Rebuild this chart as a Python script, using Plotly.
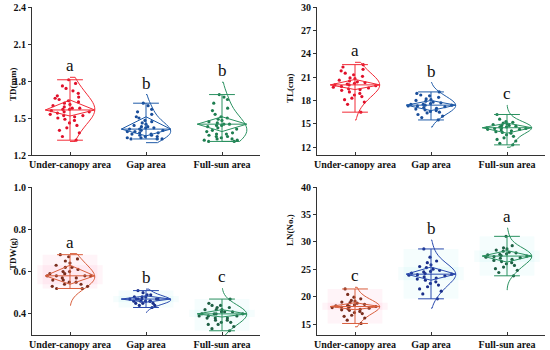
import numpy as np
import plotly.graph_objects as go

categories = ["Under-canopy area", "Gap area", "Full-sun area"]

# ---------------- TD (mm) ----------------
td_under = [1.81, 1.78, 1.76, 1.74, 1.72, 1.70, 1.68, 1.67, 1.66, 1.65, 1.64, 1.63, 1.62, 1.61, 1.60,
            1.59, 1.58, 1.58, 1.57, 1.57, 1.56, 1.55, 1.55, 1.54, 1.53, 1.52, 1.52, 1.51, 1.50, 1.49,
            1.48, 1.46, 1.44, 1.42, 1.40, 1.38, 1.35, 1.32]
td_gap = [1.62, 1.60, 1.57, 1.55, 1.53, 1.51, 1.50, 1.48, 1.47, 1.46, 1.45, 1.44, 1.43, 1.43, 1.42,
          1.42, 1.41, 1.41, 1.40, 1.40, 1.39, 1.39, 1.38, 1.38, 1.37, 1.37, 1.36, 1.36, 1.35, 1.35,
          1.34, 1.34, 1.33, 1.33, 1.33]
td_full = [1.69, 1.67, 1.65, 1.62, 1.58, 1.56, 1.53, 1.51, 1.50, 1.49, 1.48, 1.47, 1.46, 1.45, 1.45,
           1.44, 1.44, 1.43, 1.42, 1.41, 1.40, 1.39, 1.38, 1.37, 1.37, 1.36, 1.35, 1.35, 1.34, 1.33,
           1.33, 1.32, 1.32, 1.31, 1.31]
td_max = [1.81, 1.62, 1.69]
td_min = [1.32, 1.33, 1.31]
td_mean = [1.565, 1.41, 1.45]
td_q3 = [1.646, 1.51, 1.51]
td_q1 = [1.516, 1.355, 1.39]
td_span_hi = [1.83, 1.69, 1.79]
td_span_lo = [1.31, 1.30, 1.31]
td_letters = ["a", "b", "b"]

# ---------------- TL (cm) ----------------
tl_under = [22.6, 22.3, 22.0, 21.8, 21.5, 21.3, 21.1, 20.9, 20.8, 20.6, 20.5, 20.4, 20.3, 20.2, 20.1,
            20.0, 20.0, 19.9, 19.8, 19.7, 19.6, 19.5, 19.4, 19.3, 19.1, 18.9, 18.7, 18.5, 18.3, 18.1,
            17.8, 17.5, 16.5]
tl_gap = [19.1, 18.9, 18.7, 18.6, 18.4, 18.2, 18.1, 18.0, 17.9, 17.8, 17.7, 17.6, 17.5, 17.5, 17.4,
          17.4, 17.3, 17.3, 17.2, 17.1, 17.0, 16.9, 16.8, 16.7, 16.6, 16.5, 16.4, 16.2, 16.0, 15.8, 15.5]
tl_full = [16.2, 15.6, 15.3, 15.2, 15.1, 15.0, 14.9, 14.8, 14.8, 14.7, 14.6, 14.6, 14.5, 14.5, 14.4,
           14.4, 14.3, 14.3, 14.2, 14.1, 14.0, 13.9, 13.8, 13.6, 13.4, 13.2, 13.0, 12.8, 12.5, 12.3]
tl_max = [22.6, 19.1, 16.2]
tl_min = [16.5, 15.5, 12.3]
tl_mean = [20.0, 17.4, 14.5]
tl_q3 = [20.7, 18.0, 15.1]
tl_q1 = [19.4, 16.7, 13.8]
tl_span_hi = [22.9, 20.3, 17.4]
tl_span_lo = [15.5, 14.6, 12.0]
tl_letters = ["a", "b", "c"]

# ---------------- TDW (g) ----------------
tdw_under = [0.68, 0.67, 0.66, 0.65, 0.64, 0.63, 0.62, 0.62, 0.61, 0.60, 0.60, 0.59, 0.59, 0.58, 0.58,
             0.58, 0.58, 0.57, 0.57, 0.56, 0.56, 0.55, 0.55, 0.54, 0.54, 0.53, 0.53, 0.52, 0.52]
tdw_gap = [0.51, 0.50, 0.49, 0.49, 0.48, 0.48, 0.48, 0.47, 0.47, 0.47, 0.47, 0.47, 0.47, 0.46, 0.46,
           0.46, 0.46, 0.46, 0.45, 0.45, 0.45, 0.44, 0.44, 0.43]
tdw_full = [0.47, 0.45, 0.44, 0.44, 0.43, 0.43, 0.42, 0.42, 0.42, 0.41, 0.41, 0.41, 0.40, 0.40, 0.40,
            0.40, 0.39, 0.39, 0.39, 0.38, 0.38, 0.38, 0.37, 0.37, 0.36, 0.36, 0.35, 0.35, 0.34, 0.33, 0.32]
tdw_max = [0.68, 0.51, 0.47]
tdw_min = [0.52, 0.43, 0.32]
tdw_mean = [0.58, 0.47, 0.40]
tdw_q3 = [0.63, 0.485, 0.42]
tdw_q1 = [0.54, 0.455, 0.385]
tdw_span_hi = [0.685, 0.517, 0.52]
tdw_span_lo = [0.44, 0.407, 0.28]
tdw_letters = ["a", "b", "c"]

# ---------------- LN (No.) ----------------
ln_under = [21.4, 20.4, 19.9, 19.6, 19.3, 19.2, 19.0, 18.9, 18.8, 18.6, 18.5, 18.4, 18.3, 18.2, 18.2,
            18.1, 18.0, 17.9, 17.8, 17.7, 17.6, 17.5, 17.3, 17.1, 16.9, 16.6, 16.4, 16.1, 15.7, 15.1]
ln_gap = [28.7, 27.2, 26.5, 26.2, 25.8, 25.5, 25.3, 25.0, 24.8, 24.6, 24.5, 24.3, 24.2, 24.1, 24.0,
          23.9, 23.8, 23.6, 23.4, 23.2, 23.0, 22.7, 22.4, 22.1, 21.8, 21.4, 21.0, 20.5, 19.6]
ln_full = [31.0, 29.3, 28.9, 28.7, 28.5, 28.3, 28.1, 28.0, 27.8, 27.7, 27.6, 27.5, 27.4, 27.3, 27.2,
           27.1, 27.0, 26.8, 26.6, 26.4, 26.2, 26.0, 25.7, 25.4, 25.1, 24.8, 24.4, 23.8]
ln_max = [21.4, 28.7, 31.0]
ln_min = [15.1, 19.6, 23.8]
ln_mean = [18.2, 24.1, 27.4]
ln_q3 = [18.9, 25.4, 28.4]
ln_q1 = [17.6, 23.0, 26.3]
ln_span_hi = [21.7, 30.3, 32.5]
ln_span_lo = [14.5, 17.9, 21.2]
ln_letters = ["c", "b", "a"]

y_titles = ["TD(mm)", "TL(cm)", "TDW(g)", "LN(No.)"]
y_ranges = [[1.2, 2.4], [11, 30], [0.3, 1.0], [13, 40]]
y_ticks = [[1.2, 1.5, 1.8, 2.1, 2.4], [12, 15, 18, 21, 24, 27, 30],
           [0.4, 0.6, 0.8, 1.0], [15, 20, 25, 30, 35, 40]]
y_tickfmt = [".1f", "d", ".1f", "d"]

panels = [
    dict(vals=[td_under, td_gap, td_full], mx=td_max, mn=td_min, mean=td_mean, q3=td_q3, q1=td_q1,
         hi=td_span_hi, lo=td_span_lo, let=td_letters),
    dict(vals=[tl_under, tl_gap, tl_full], mx=tl_max, mn=tl_min, mean=tl_mean, q3=tl_q3, q1=tl_q1,
         hi=tl_span_hi, lo=tl_span_lo, let=tl_letters),
    dict(vals=[tdw_under, tdw_gap, tdw_full], mx=tdw_max, mn=tdw_min, mean=tdw_mean, q3=tdw_q3, q1=tdw_q1,
         hi=tdw_span_hi, lo=tdw_span_lo, let=tdw_letters),
    dict(vals=[ln_under, ln_gap, ln_full], mx=ln_max, mn=ln_min, mean=ln_mean, q3=ln_q3, q1=ln_q1,
         hi=ln_span_hi, lo=ln_span_lo, let=ln_letters),
]

# styling
W, H = 550, 350
line_cols_top = ["#F22A36", "#1F5BA8", "#2A9160"]
pt_cols_top = ["#E0102A", "#1A4E9A", "#1E7E50"]
line_cols_bot = ["#D9603E", "#2A4AAE", "#2A9160"]
pt_cols_bot = ["#7A2E1E", "#1A2F8A", "#1E6045"]
bg_cols = ["rgba(255,120,170,0.08)", "rgba(120,230,230,0.07)", "rgba(120,230,230,0.07)"]

x_doms = [[32 / W, 260 / W], [317 / W, 545 / W]]
y_doms = [[1 - 155 / H, 1 - 7 / H], [1 - 335 / H, 1 - 187 / H]]
title_px = [(6, 65), (290, 71), (6, 272), (290, 248)]   # pixel centres of the y titles

DIA = 0.325   # diamond half width (category units)
CAP = 0.17    # cap half width
BW_SCALE = 1.5  # smoother density curves than the default Silverman bandwidth
SERIF = "Liberation Serif"


def smooth_bw(v):
    a = np.asarray(v, dtype=float)
    s = a.std(ddof=1)
    iqr = np.subtract(*np.percentile(a, [75, 25]))
    return BW_SCALE * 1.059 * min(s, iqr / 1.349) * len(a) ** -0.2


fig = go.Figure()
shapes = []
annotations = []

for p_idx, p in enumerate(panels):
    row, col = divmod(p_idx, 2)
    n = p_idx + 1
    xa = "x" if n == 1 else f"x{n}"
    ya = "y" if n == 1 else f"y{n}"
    lcols = line_cols_top if row == 0 else line_cols_bot
    pcols = pt_cols_top if row == 0 else pt_cols_bot
    for i in range(3):
        if row == 1:
            shapes.append(dict(type="rect", xref=xa, yref=ya, x0=i - 0.36, x1=i + 0.36,
                               y0=p["mn"][i], y1=p["mx"][i], fillcolor=bg_cols[i],
                               line=dict(width=0), layer="below"))
            shapes.append(dict(type="rect", xref=xa, yref=ya, x0=i - 0.43, x1=i + 0.43,
                               y0=p["q1"][i], y1=p["q3"][i], fillcolor=bg_cols[i],
                               line=dict(width=0), layer="below"))
        # half violin with jittered points
        fig.add_trace(go.Violin(
            x0=i, y=p["vals"][i], xaxis=xa, yaxis=ya, side="positive", width=2 * DIA,
            spanmode="manual", span=[p["lo"][i], p["hi"][i]], bandwidth=smooth_bw(p["vals"][i]),
            line=dict(color=lcols[i], width=1), fillcolor="rgba(0,0,0,0)",
            points="all", pointpos=0, jitter=0.95,
            marker=dict(color=pcols[i], size=3.2, line=dict(width=0)),
            showlegend=False, hoverinfo="y", scalemode="width"))
        # whisker + caps
        fig.add_trace(go.Scatter(
            x=[i, i, None, i - CAP, i + CAP, None, i - CAP, i + CAP],
            y=[p["mn"][i], p["mx"][i], None, p["mx"][i], p["mx"][i], None, p["mn"][i], p["mn"][i]],
            xaxis=xa, yaxis=ya, mode="lines", line=dict(color=lcols[i], width=1),
            showlegend=False, hoverinfo="skip"))
        # diamond + mean line
        fig.add_trace(go.Scatter(
            x=[i - DIA, i, i + DIA, i, i - DIA, None, i - DIA, i + DIA],
            y=[p["mean"][i], p["q3"][i], p["mean"][i], p["q1"][i], p["mean"][i], None,
               p["mean"][i], p["mean"][i]],
            xaxis=xa, yaxis=ya, mode="lines", line=dict(color=lcols[i], width=1),
            showlegend=False, hoverinfo="skip"))
        annotations.append(dict(x=i, y=p["hi"][i], xref=xa, yref=ya, text=p["let"][i],
                                showarrow=False, yanchor="bottom", yshift=0,
                                font=dict(family=SERIF, size=17, color="#111")))
    axis_common = dict(showline=True, linecolor="#333", linewidth=1, showgrid=False, zeroline=False)
    fig.update_layout(**{
        ("xaxis" if n == 1 else f"xaxis{n}"): dict(
            domain=x_doms[col], anchor=ya, range=[-0.5, 2.5], tickmode="array",
            tickvals=[0, 1, 2], ticktext=categories, ticks="inside", ticklen=3,
            tickcolor="#333", tickfont=dict(family=SERIF, size=10, color="#111", weight="bold"),
            automargin=False, **axis_common),
        ("yaxis" if n == 1 else f"yaxis{n}"): dict(
            domain=y_doms[row], anchor=xa, range=y_ranges[p_idx], tickmode="array",
            tickvals=y_ticks[p_idx], tickformat=y_tickfmt[p_idx], ticks="outside", ticklen=3,
            tickcolor="#333", tickfont=dict(family=SERIF, size=10, color="#111", weight="bold"),
            automargin=False, **axis_common),
    })
    tx, ty = title_px[p_idx]
    annotations.append(dict(x=tx / W, y=1 - ty / H, xref="paper", yref="paper", text=y_titles[p_idx],
                            textangle=-90, showarrow=False,
                            font=dict(family=SERIF, size=9, color="#111", weight="bold")))

fig.update_layout(width=W, height=H, margin=dict(l=0, r=0, t=0, b=0),
                  plot_bgcolor="white", paper_bgcolor="white",
                  shapes=shapes, annotations=annotations, violinmode="overlay")
fig.write_html("out.html", config={"displayModeBar": False},
               post_script="document.body.style.margin='0';document.body.style.overflow='hidden';")
